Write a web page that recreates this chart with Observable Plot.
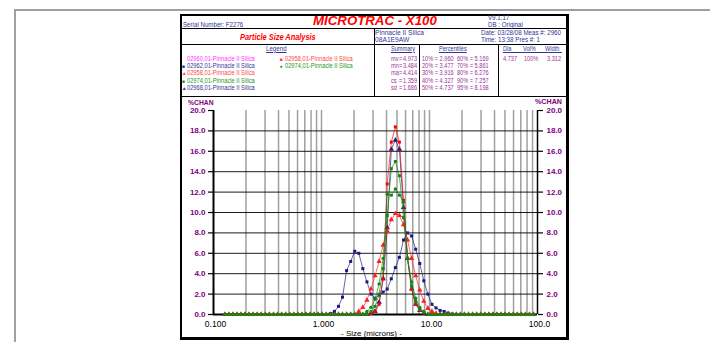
<!DOCTYPE html>
<html><head><meta charset="utf-8">
<script src="https://cdn.jsdelivr.net/npm/d3@7"></script>
<script src="https://cdn.jsdelivr.net/npm/@observablehq/plot@0.6"></script>
<style>
body{margin:0;background:#fff;font-family:"Liberation Sans",Arial,sans-serif;}
#page{position:relative;width:710px;height:342px;overflow:hidden;background:#fff;}
.t{position:absolute;white-space:nowrap;line-height:1;font-size:6.5px;transform-origin:0 50%;transform:scaleX(0.88);}
.nv{color:#333399;} .pu{color:#993399;}
.ln{position:absolute;background:#000;}
.u{text-decoration:underline;}
#plot{position:absolute;left:181px;top:97px;}
</style></head><body><div id="page">
<div style="position:absolute;left:14px;top:9px;width:720px;height:400px;border-left:2px solid #a0a0a0;border-top:2px solid #a0a0a0;"></div>
<div id="plot"></div>
</div>
<script>
// ---------------- data ----------------
// channel mid sizes (microns)
const channels = [
 0.1274,0.1389,0.1514,0.1650,0.1796,0.1953,0.2130,0.2329,0.2538,0.2767,
 0.3018,0.3290,0.3592,0.3916,0.4271,0.4658,0.5075,0.5535,0.6036,0.6579,
 0.7185,0.7832,0.8542,0.9315,1.015,1.107,1.207,1.317,1.436,1.565,
 1.707,1.862,2.031,2.215,2.414,2.634,2.872,3.132,3.415,3.724,
 4.061,4.429,4.830,5.267,5.744,6.264,6.831,7.449,8.123,8.858,
 9.660,10.54,11.49,12.53,13.66,14.90,16.25,17.71,19.32,21.06,
 22.97,25.05,27.32,29.79,32.49,35.43,38.64,42.14,45.95,50.11,
 54.65,59.59,64.99,70.87,77.28,84.28,91.90];

const chan02962 = [
 0,0,0,0,0,0,0,0,0,0,
 0,0,0,0,0,0,0,0,0,0,
 0,0,0,0,0,0,0.1,0.3,0.8,1.7,
 4.3,5.2,6.2,6.0,4.5,3.2,2.0,1.6,1.9,2.2,
 2.5,3.5,4.6,5.6,7.3,8.0,7.7,6.4,5.0,3.3,
 2.0,1.0,0.65,0.4,0.3,0.15,0.05,0,0,0,
 0,0,0,0,0,0,0,0,0,0,
 0,0,0,0,0,0,0];
const chan02958tri = [
 0,0,0,0,0,0,0,0,0,0,
 0,0,0,0,0,0,0,0,0,0,
 0,0,0,0,0,0,0,0,0,0,
 0,0,0,0.3,0.7,1.4,2.5,3.8,5.2,6.8,
 8.2,9.3,9.9,9.7,8.8,7.3,5.5,3.8,2.4,1.3,
 0.6,0.3,0.1,0,0,0,0,0,0,0,
 0,0,0,0,0,0,0,0,0,0,
 0,0,0,0,0,0,0];
const chan02974sq = [
 0,0,0,0,0,0,0,0,0,0,
 0,0,0,0,0,0,0,0,0,0,
 0,0,0,0,0,0,0,0,0,0,
 0,0,0,0,0,0,0.3,0.8,2.0,4.5,
 9.7,14.3,15.0,13.6,9.5,5.5,2.8,1.3,0.5,0.2,
 0,0,0,0,0,0,0,0,0,0,
 0,0,0,0,0,0,0,0,0,0,
 0,0,0,0,0,0,0];
const chan02968 = [
 0,0,0,0,0,0,0,0,0,0,
 0,0,0,0,0,0,0,0,0,0,
 0,0,0,0,0,0,0,0,0,0,
 0,0,0,0,0,0,0.1,0.3,1.2,3.5,
 8.5,16.2,17.1,16.2,10.5,5.5,2.5,1.0,0.4,0.15,
 0,0,0,0,0,0,0,0,0,0,
 0,0,0,0,0,0,0,0,0,0,
 0,0,0,0,0,0,0];
const chan02958sq = [
 0,0,0,0,0,0,0,0,0,0,
 0,0,0,0,0,0,0,0,0,0,
 0,0,0,0,0,0,0,0,0,0,
 0,0,0,0,0,0,0.1,0.3,1.0,3.5,
 12.8,16.9,18.4,16.9,11.2,5.5,2.5,1.0,0.4,0.15,
 0,0,0,0,0,0,0,0,0,0,
 0,0,0,0,0,0,0,0,0,0,
 0,0,0,0,0,0,0];
const chan02974ci = [
 0,0,0,0,0,0,0,0,0,0,
 0,0,0,0,0,0,0,0,0,0,
 0,0,0,0,0,0,0,0,0,0,
 0,0,0,0,0,0.3,0.7,1.5,3.0,5.5,
 11.8,11.7,12.3,11.7,11.0,5.5,3.2,1.6,0.7,0.3,
 0,0,0,0,0,0,0,0,0,0,
 0,0,0,0,0,0,0,0,0,0,
 0,0,0,0,0,0,0];

const seriesNames = ["02962,01","02968,01","02958,01 tri","02958,01 sq","02974,01 ci","02974,01 sq"];
const seriesColors = ["#1a1a80","#1a1a80","#ff2020","#ff0000","#118811","#118811"];
const seriesSymbols = ["square","triangle","triangle","square","circle","square"];
const seriesValues = [chan02962, chan02968, chan02958tri, chan02958sq, chan02974ci, chan02974sq];

const yTicks = [0,2,4,6,8,10,12,14,16,18,20];
const yGrid = [2,4,6,8,10,12,14,16,18];
const xTicks = [0.1,1,10,100];
const xTickLabels = ["0.100","1.000","10.00","100.0"];
const xGrid = [0.2,0.3,0.4,0.5,0.6,0.7,0.8,0.9,1,2,3,4,5,6,7,8,9,10,20,30,40,50,60,70,80,90];

const legendLeft = [
 {name:"02960,01-Pinnacle II Silica", color:"#ff33ff", symbol:null},
 {name:"02962,01-Pinnacle II Silica", color:"#333399", symbol:"square"},
 {name:"02958,01-Pinnacle II Silica", color:"#ff4444", symbol:"triangle"},
 {name:"02974,01-Pinnacle II Silica", color:"#229922", symbol:"square"},
 {name:"02968,01-Pinnacle II Silica", color:"#333399", symbol:"triangle"}];
const legendRight = [
 {name:"02958,01-Pinnacle II Silica", color:"#ff4444", symbol:"square"},
 {name:"02974,01-Pinnacle II Silica", color:"#229922", symbol:"circle"}];
const summaryLabels = ["mv","mn","ma","cs","sd"];
const summaryValues = ["4.973","3.484","4.414","1.359","1.686"];
const pctLeft = ["10%","20%","30%","40%","50%"];
const pctLeftVals = ["2.960","3.477","3.916","4.327","4.737"];
const pctRight = ["60%","70%","80%","90%","95%"];
const pctRightVals = ["5.169","5.861","6.276","7.257","8.198"];
const peakHeaders = ["Dia","Vol%","Width"];
const peakValues = ["4.737","100%","3.312"];

// ---------------- layout helpers ----------------
const page = document.getElementById("page");
function txt(s, x, yc, cls, extra){
  const d = document.createElement("div");
  d.className = "t " + (cls||"");
  d.textContent = s;
  d.style.left = x + "px";
  d.style.top = (yc - 4) + "px";
  d.style.height = "8px"; d.style.lineHeight = "8px";
  if (extra) Object.assign(d.style, extra);
  page.appendChild(d);
  return d;
}
function line(x, y, w, h, c){
  const d = document.createElement("div");
  d.className = "ln";
  Object.assign(d.style,{left:x+"px",top:y+"px",width:w+"px",height:h+"px"});
  if (c) d.style.background = c;
  page.appendChild(d);
}
// report frame
line(180,14,389,1.5);
line(180,14,2,326);
line(566,14,3,326);
line(180,337,389,3);
line(181,28,386,1);
line(181,44,386,1.2);
line(181,96,386,1.2);
line(373.5,28,1.2,68);
line(418.5,44,1,52);
line(497.5,44,1,52);

const sm = {fontSize:"7px", transform:"scaleX(0.8)"};
// header row
txt("Serial Number:   F2276", 183, 24.5, "nv", {fontSize:"7px"});
txt("MICROTRAC - X100", 313, 20.5, "", {fontSize:"13px",fontWeight:"bold",fontStyle:"italic",color:"#ff0000",transform:"scaleX(1.02)",height:"14px",lineHeight:"14px",top:"13.5px"});
txt("V9.1.17", 488, 17.5, "nv", {fontSize:"7px"});
txt("DB : Original", 488, 24.5, "nv", {fontSize:"7px"});
txt("Particle Size Analysis", 240, 36.5, "", {fontSize:"8.6px",fontWeight:"bold",fontStyle:"italic",color:"#ff0000",height:"10px",lineHeight:"10px",top:"31.5px",transform:"scaleX(0.86)"});
txt("Pinnacle II Silica", 375, 32.5, "nv", {fontSize:"7.6px"});
txt("08A1E9AW", 375, 40, "nv", {fontSize:"7.6px"});
txt("Date:   03/28/08    Meas #:   2960", 481, 32.5, "nv", {fontSize:"7.3px", transform:"scaleX(0.85)"});
txt("Time:   13:38       Pres #:   1", 481, 40, "nv", {fontSize:"7.3px", transform:"scaleX(0.85)"});

// legend
txt("Legend", 266, 48.5, "nv u", {fontSize:"7px"});
const rowsY = [58.5,65.5,73,80.5,88];
const symChar = {square:"\u25A0", triangle:"\u25B2", circle:"\u25CF"};
legendLeft.forEach((e,i)=>{
  if (e.symbol) txt(symChar[e.symbol], 181.8, rowsY[i], "", {color:e.color,fontSize:"5px",transform:"none"});
  txt(e.name, 187, rowsY[i], "", {color:e.color});
});
legendRight.forEach((e,i)=>{
  txt(symChar[e.symbol], 279.5, rowsY[i], "", {color:e.color,fontSize:"5px",transform:"none"});
  txt(e.name, 284.5, rowsY[i], "", {color:e.color});
});
// summary
txt("Summary", 390.5, 48.5, "nv u", sm);
summaryLabels.forEach((l,i)=>{
  txt(l, 390.5, rowsY[i], "pu", sm);
  txt("=", 399.3, rowsY[i], "pu", sm);
  txt(summaryValues[i], 403, rowsY[i], "pu", sm);
});
txt("Percentiles", 439, 48.5, "nv u", sm);
pctLeft.forEach((l,i)=>{
  txt(l + " = " + pctLeftVals[i], 421.5, rowsY[i], "pu", sm);
  txt(pctRight[i] + " = " + pctRightVals[i], 457.3, rowsY[i], "pu", sm);
});
txt(peakHeaders[0], 502.7, 48.5, "nv", sm);
txt(peakHeaders[1], 523, 48.5, "nv", sm);
txt(peakHeaders[2], 545, 48.5, "nv", sm);
line(502.7,52.3,59,0.8,"#333399");
txt(peakValues[0], 503.3, rowsY[0], "pu", sm);
txt(peakValues[1], 524, rowsY[0], "pu", sm);
txt(peakValues[2], 547.3, rowsY[0], "pu", sm);

// %CHAN labels + x title
txt("%CHAN", 187.5, 103, "", {color:"#800080",fontWeight:"bold",fontSize:"7.5px",transform:"scaleX(0.9)"});
txt("%CHAN", 535, 102, "", {color:"#800080",fontWeight:"bold",fontSize:"7.5px",transform:"scaleX(0.95)"});
txt("- Size (microns) -", 341, 333.5, "", {color:"#000",fontSize:"8px",transform:"none"});

// ---------------- plot ----------------
const rows = [];
seriesValues.forEach((vals, s) => vals.forEach((v, i) => rows.push({series: seriesNames[s], size: channels[i], pct: v, s})));

const marks = [
  Plot.ruleX(xGrid, {stroke:"#a0a0a0", strokeWidth:1.5}),
  Plot.ruleY(yGrid, {stroke:"#000", strokeWidth:0.9}),
  Plot.axisY({anchor:"left", ticks:yTicks, tickFormat:d=>d.toFixed(1), tickSize:5, tickPadding:3, fill:"#800080", fontWeight:"bold", label:null, strokeWidth:1.2, stroke:"#000"}),
  Plot.axisY({anchor:"right", ticks:yTicks, tickFormat:d=>d.toFixed(1), tickSize:5, tickPadding:4, fill:"#800080", fontWeight:"bold", label:null, strokeWidth:1.2, stroke:"#000"}),
  Plot.axisX({ticks:xTicks, tickFormat:d=>xTickLabels[xTicks.indexOf(d)], tickSize:0, tickPadding:6, dx:2, label:null, fill:"#000", fontSize:8.5}),
  Plot.ruleX([0.1], {stroke:"#000", strokeWidth:2}),
  Plot.ruleX([100], {stroke:"#000", strokeWidth:1.5}),
  Plot.ruleY([0], {stroke:"#000", strokeWidth:2})
];
seriesValues.forEach((vals, s) => {
  const data = rows.filter(r => r.s === s);
  marks.push(Plot.line(data, {x:"size", y:"pct", stroke:seriesColors[s], strokeWidth:0.9, strokeOpacity:0.75}));
  marks.push(Plot.dot(data, {x:"size", y:"pct", fill:seriesColors[s], stroke:"none", symbol:seriesSymbols[s], r: seriesSymbols[s]==="triangle"?2:1.7}));
});

const chart = Plot.plot({
  width: 387, height: 242,
  marginLeft: 32, marginRight: 31, marginTop: 13, marginBottom: 25,
  x: {type:"log", domain:[0.1,100]},
  y: {domain:[0,20]},
  style: {fontFamily:"Liberation Sans, Arial, sans-serif", fontSize:"8px", background:"transparent", overflow:"visible"},
  marks
});
document.getElementById("plot").appendChild(chart);
</script>
</body></html>
